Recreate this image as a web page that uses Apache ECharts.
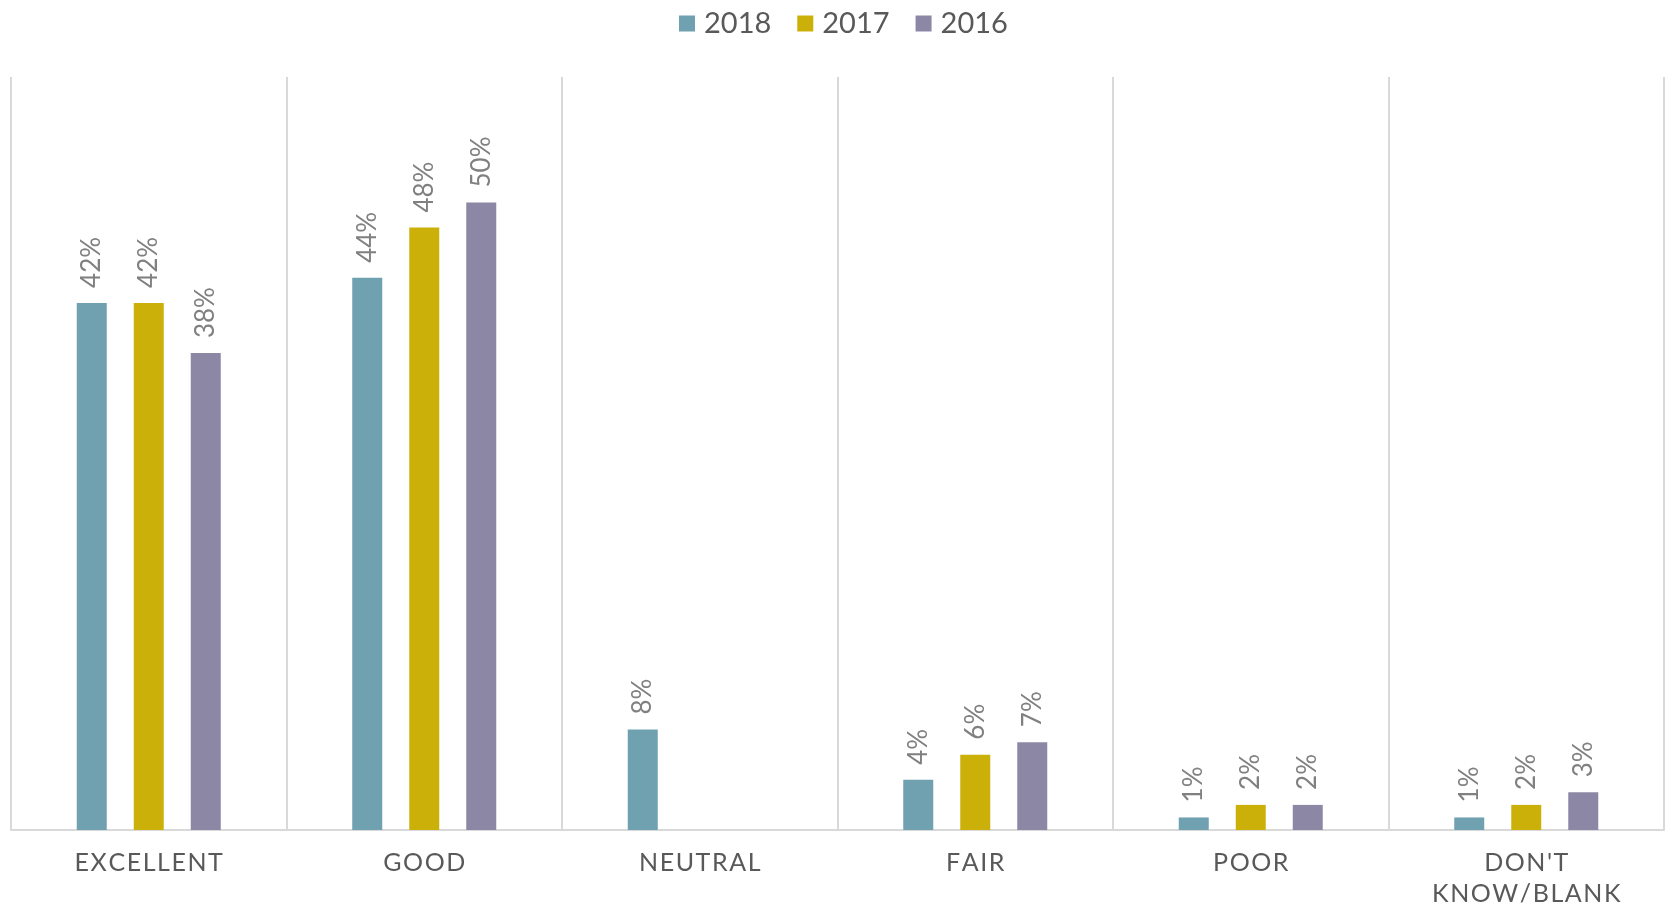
<!DOCTYPE html>
<html>
<head>
<meta charset="utf-8">
<script src="https://cdn.jsdelivr.net/npm/echarts@6/dist/echarts.min.js"></script>
<style>
  html, body { margin: 0; padding: 0; background: #fff; }
  #chart { width: 1665px; height: 907px; }
</style>
</head>
<body>
<div id="chart"></div>
<script>
  const categories = ['EXCELLENT', 'GOOD', 'NEUTRAL', 'FAIR', 'POOR', "DON'T\nKNOW/BLANK"]
  const years = ['2018', '2017', '2016']
  const values2018 = [42, 44, 8, 4, 1, 1]
  const values2017 = [42, 48, null, 6, 2, 2]
  const values2016 = [38, 50, null, 7, 2, 3]
  const colors = ['#6fa1b0', '#ccb00a', '#8c87a5']

  // spread letters a bit, like the tracking in the original
  const spaced = s => s.split('\n').map(line => line.split('').join('\u200a')).join('\n')

  let myChart = echarts.init(document.getElementById('chart'))
  let series = []
  ;[values2018, values2017, values2016].forEach((data, index) => {
    series.push({
      name: years[index],
      type: 'bar',
      data: data,
      barWidth: 30,
      barGap: '90%',
      itemStyle: { color: colors[index] },
      label: {
        show: true,
        position: 'top',
        rotate: 90,
        align: 'left',
        verticalAlign: 'middle',
        distance: 15,
        color: '#808080',
        fontSize: 26,
        fontFamily: 'Lato',
        formatter: p => p.value == null ? '' : p.value + '%'
      }
    })
  })

  let option = {
    animation: false,
    color: colors,
    legend: {
      data: years,
      top: 4,
      left: 674,
      itemWidth: 16,
      itemHeight: 16,
      itemGap: 26,
      icon: 'rect',
      textStyle: { color: '#595959', fontSize: 29, fontFamily: 'Lato', padding: [0, 0, 0, 4] }
    },
    grid: { left: 11, right: 1, top: 77, bottom: 77, outerBoundsMode: 'none' },
    xAxis: {
      type: 'category',
      data: categories,
      axisLine: { lineStyle: { color: '#d9d9d9', width: 2 } },
      axisTick: { show: false },
      splitLine: { show: true, lineStyle: { color: '#d9d9d9', width: 2 } },
      axisLabel: {
        color: '#595959',
        fontSize: 25,
        fontFamily: 'Lato',
        margin: 17,
        lineHeight: 31,
        interval: 0,
        formatter: v => spaced(v)
      }
    },
    yAxis: {
      type: 'value',
      min: 0,
      max: 60,
      show: false,
      splitLine: { show: false }
    },
    series: series
  }
  myChart.setOption(option)
</script>
</body>
</html>
